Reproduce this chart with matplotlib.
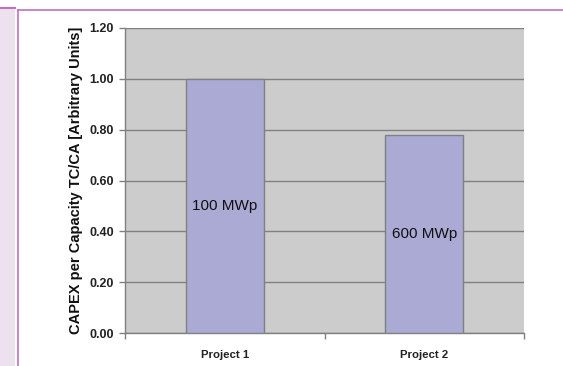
import matplotlib
matplotlib.use("Agg")
import matplotlib.pyplot as plt
from matplotlib.patches import Rectangle
from matplotlib.lines import Line2D

categories = ["Project 1", "Project 2"]
values = [1.00, 0.78]
bar_labels = ["100 MWp", "600 MWp"]
yticks = [0.0, 0.2, 0.4, 0.6, 0.8, 1.0, 1.2]
ylabel = "CAPEX per Capacity TC/CA [Arbitrary Units]"

plt.rcParams['font.family'] = ['Liberation Sans', 'DejaVu Sans']

W, H = 563, 366
fig = plt.figure(figsize=(W / 100, H / 100), dpi=100)
fig.patch.set_facecolor("white")

# decorative frame
frame_col = "#c070c0"
fig.patches.append(Rectangle((0, 0), 15 / W, (H - 8) / H, transform=fig.transFigure,
                             facecolor="#ede0ef", edgecolor="none", zorder=0))
fig.lines.append(Line2D([0, 15 / W], [1 - 7.5 / H, 1 - 7.5 / H], transform=fig.transFigure,
                        color=frame_col, lw=1.5))
fig.lines.append(Line2D([18 / W, 1], [1 - 9.5 / H, 1 - 9.5 / H], transform=fig.transFigure,
                        color=frame_col, lw=1.2))
fig.lines.append(Line2D([18 / W, 18 / W], [0, 1 - 9.5 / H], transform=fig.transFigure,
                        color=frame_col, lw=1.2))

left, right, top, bottom = 125, 524, 28, 333
ax = fig.add_axes([left / W, 1 - bottom / H, (right - left) / W, (bottom - top) / H])
ax.set_facecolor("#cccccc")

x = list(range(len(categories)))
bars = ax.bar(x, values, width=0.39, color="#aaaad4", edgecolor="#808080", linewidth=1.0, zorder=3)
for xi, v, lab in zip(x, values, bar_labels):
    ax.text(xi, v / 2, lab, ha="center", va="center", fontsize=11, color="#111111", zorder=4)

ax.set_xlim(-0.5, len(categories) - 0.5)
ax.set_ylim(0, 1.2)
ax.set_yticks(yticks)
ax.set_yticklabels([f"{t:.2f}" for t in yticks], fontsize=9, fontweight="bold", color="#222222")
ax.yaxis.grid(True, color="#808080", lw=1.0, zorder=1)
ax.set_axisbelow(True)

ax.set_xticks(x)
ax.set_xticklabels(categories, fontsize=8.2, fontweight="bold", color="#222222")
ax.tick_params(axis="x", length=0, pad=12)
ax.set_xticks([-0.5, 0.5, 1.5], minor=True)
ax.tick_params(axis="x", which="minor", length=4, color="#808080", width=1)
ax.tick_params(axis="y", length=4, color="#808080", width=1, pad=4)

for s in ["top", "right"]:
    ax.spines[s].set_visible(False)
for s in ["left", "bottom"]:
    ax.spines[s].set_color("#808080")
    ax.spines[s].set_linewidth(1.0)

ax.set_ylabel(ylabel, fontsize=10.5, fontweight="bold", color="#111111", labelpad=4.5)

fig.savefig("out.png", dpi=100)
